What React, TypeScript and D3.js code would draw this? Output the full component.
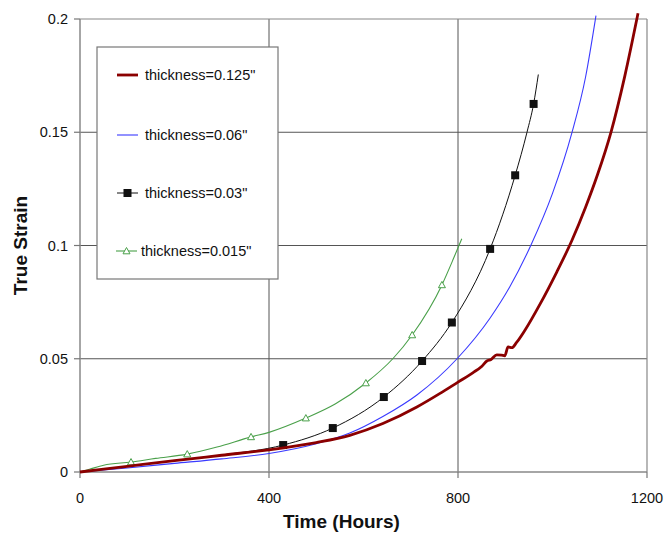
import React from "react";
import * as d3 from "d3";

type P = [number, number];

const xTicks = [0, 400, 800, 1200];
const yTicks = [0, 0.05, 0.1, 0.15, 0.2];
const yTickLabels = ["0", "0.05", "0.1", "0.15", "0.2"];

const seriesNames = ['thickness=0.125"', 'thickness=0.06"', 'thickness=0.03"', 'thickness=0.015"'];

const red125: P[] = [
  [0, 0], [100, 0.0025], [200, 0.005], [300, 0.0074], [400, 0.0098], [500, 0.013], [571, 0.0162],
  [641, 0.0214], [713, 0.0287], [762, 0.0347], [800, 0.0397], [832, 0.0439], [850, 0.0466], [861, 0.049],
  [870, 0.0497], [882, 0.0517], [892, 0.0516], [899, 0.0513], [906, 0.0552], [914, 0.0549], [924, 0.0572],
  [942, 0.0627], [973, 0.0739], [1009, 0.0883], [1041, 0.1022], [1070, 0.1169], [1095, 0.1311], [1124, 0.1502],
  [1153, 0.1748], [1181, 0.2025],
];

const blue06: P[] = [
  [0, 0], [100, 0.0018], [200, 0.0038], [300, 0.0058], [400, 0.0082], [500, 0.0125], [571, 0.0172],
  [641, 0.0245], [713, 0.034], [798, 0.05], [868, 0.068], [910, 0.0819], [954, 0.1], [1000, 0.123],
  [1041, 0.1497], [1070, 0.1744], [1092, 0.2015],
];

const black03: P[] = [
  [0, 0], [100, 0.0025], [200, 0.005], [300, 0.0075], [430, 0.0119], [535, 0.0194], [643, 0.0331],
  [724, 0.049], [787, 0.066], [868, 0.0985], [921, 0.131], [946, 0.15], [960, 0.1625], [970, 0.1755],
];
const black03Markers: P[] = [
  [430, 0.0119], [535, 0.0194], [643, 0.0331], [724, 0.049], [787, 0.066], [868, 0.0985], [921, 0.131], [960, 0.1625],
];

const green015: P[] = [
  [0, 0], [20, 0.0012], [50, 0.003], [108, 0.0044], [160, 0.006], [227, 0.0079], [290, 0.011],
  [362, 0.0155], [400, 0.0175], [478, 0.0238], [540, 0.030], [605, 0.0393], [662, 0.05], [703, 0.0605],
  [766, 0.0826], [790, 0.094], [808, 0.103],
];
const green015Markers: P[] = [
  [108, 0.0044], [227, 0.0079], [362, 0.0155], [478, 0.0238], [605, 0.0393], [703, 0.0605], [766, 0.0826],
];

const W = 664;
const H = 533;
const left = 80;
const right = 647;
const top = 19;
const bottom = 472;

const RED = "#8b0000";
const BLUE = "#3a3aff";
const BLACK = "#111111";
const GREEN = "#4aa04a";
const FONT = "'Liberation Sans', Arial, Helvetica, sans-serif";

export default function App() {
  const x = d3.scaleLinear().domain([0, 1200]).range([left, right]);
  const y = d3.scaleLinear().domain([0, 0.2]).range([bottom, top]);

  const lineSmooth = d3.line<P>().x((d) => x(d[0])).y((d) => y(d[1])).curve(d3.curveMonotoneX);

  const tri = (cx: number, cy: number, s = 3.5) =>
    `M${cx},${cy - s} L${cx + s},${cy + s * 0.8} L${cx - s},${cy + s * 0.8} Z`;

  const legendX = 97;
  const legendY = 47;
  const legendW = 181;
  const legendH = 232;
  const legendRows = [75, 135, 193, 251];

  return (
    <svg width={W} height={H} style={{ position: "absolute", left: 0, top: 0, background: "#fff" }}>
      <rect x={0} y={0} width={W} height={H} fill="#fff" />
      {/* gridlines */}
      {yTicks.filter((t) => t > 0 && t < 0.2).map((t) => (
        <line key={"gy" + t} x1={left} x2={right} y1={y(t)} y2={y(t)} stroke="#555" strokeWidth={1} />
      ))}
      {xTicks.filter((t) => t > 0 && t < 1200).map((t) => (
        <line key={"gx" + t} x1={x(t)} x2={x(t)} y1={top} y2={bottom} stroke="#555" strokeWidth={1} />
      ))}
      {/* frame */}
      <line x1={left} x2={right} y1={top} y2={top} stroke="#888" strokeWidth={1.2} />
      <line x1={right} x2={right} y1={top} y2={bottom} stroke="#888" strokeWidth={1.2} />
      <line x1={left} x2={left} y1={top} y2={bottom} stroke="#888" strokeWidth={1.5} />
      <line x1={left} x2={right} y1={bottom} y2={bottom} stroke="#888" strokeWidth={1.5} />
      {/* ticks */}
      {yTicks.map((t) => (
        <line key={"ty" + t} x1={left - 6} x2={left} y1={y(t)} y2={y(t)} stroke="#777" strokeWidth={1.2} />
      ))}
      {xTicks.map((t) => (
        <line key={"tx" + t} x1={x(t)} x2={x(t)} y1={bottom} y2={bottom + 6} stroke="#777" strokeWidth={1.2} />
      ))}
      {/* tick labels */}
      {yTicks.map((t, i) => (
        <text key={"ly" + t} x={68} y={y(t)} dy="0.36em" textAnchor="end" fontFamily={FONT} fontSize={14.5} fill="#111">
          {yTickLabels[i]}
        </text>
      ))}
      {xTicks.map((t) => (
        <text key={"lx" + t} x={x(t)} y={503} textAnchor="middle" fontFamily={FONT} fontSize={14.5} fill="#111">
          {t}
        </text>
      ))}
      {/* axis titles */}
      <text x={(left + right) / 2 - 22} y={528} textAnchor="middle" fontFamily={FONT} fontSize={19} fontWeight="bold" fill="#111">
        Time (Hours)
      </text>
      <text
        transform={`translate(27, ${(top + bottom) / 2}) rotate(-90)`}
        textAnchor="middle"
        fontFamily={FONT}
        fontSize={19}
        fontWeight="bold"
        fill="#111"
      >
        True Strain
      </text>

      {/* legend box (drawn over gridlines) */}
      <rect x={legendX} y={legendY} width={legendW} height={legendH} fill="#fff" stroke="#777" strokeWidth={1.2} />

      {/* series */}
      <path d={lineSmooth(green015) || ""} fill="none" stroke={GREEN} strokeWidth={1.1} />
      {green015Markers.map((d, i) => (
        <path key={"gm" + i} d={tri(x(d[0]), y(d[1]))} fill="#fff" stroke={GREEN} strokeWidth={1} />
      ))}
      <path d={lineSmooth(blue06) || ""} fill="none" stroke={BLUE} strokeWidth={1.1} />
      <path d={lineSmooth(black03) || ""} fill="none" stroke={BLACK} strokeWidth={1} />
      {black03Markers.map((d, i) => (
        <rect key={"bm" + i} x={x(d[0]) - 4} y={y(d[1]) - 4} width={8} height={8} fill={BLACK} />
      ))}
      <path d={lineSmooth(red125) || ""} fill="none" stroke={RED} strokeWidth={2.8} strokeLinejoin="round" />

      {/* legend entries */}
      {seriesNames.map((name, i) => {
        const ly = legendRows[i];
        return (
          <g key={"lg" + i}>
            {i === 0 && <line x1={117} x2={138} y1={ly} y2={ly} stroke={RED} strokeWidth={2.8} />}
            {i === 1 && <line x1={117} x2={138} y1={ly} y2={ly} stroke={BLUE} strokeWidth={1.1} />}
            {i === 2 && (
              <g>
                <line x1={117} x2={138} y1={ly} y2={ly} stroke={BLACK} strokeWidth={1} />
                <rect x={123.5} y={ly - 4} width={8} height={8} fill={BLACK} />
              </g>
            )}
            {i === 3 && (
              <g>
                <line x1={116} x2={137} y1={ly} y2={ly} stroke={GREEN} strokeWidth={1.1} />
                <path d={tri(126.5, ly)} fill="#fff" stroke={GREEN} strokeWidth={1} />
              </g>
            )}
            <text x={i === 3 ? 141 : 145} y={ly} dy="0.36em" fontFamily={FONT} fontSize={14.5} fill="#111">
              {name}
            </text>
          </g>
        );
      })}
    </svg>
  );
}
